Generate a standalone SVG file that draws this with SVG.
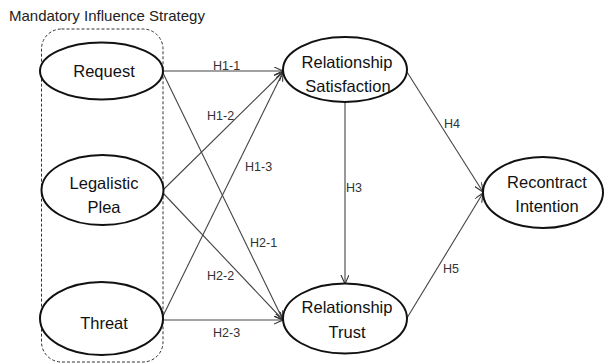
<svg xmlns="http://www.w3.org/2000/svg" width="604" height="364" viewBox="0 0 604 364">
  <style>
    .node ellipse { fill: #ffffff; stroke: #111111; stroke-width: 2; }
    .node text { font-family: "Liberation Sans", Arial, sans-serif; font-size: 16.5px; fill: #111111; text-anchor: middle; }
    .edge { stroke: #444444; stroke-width: 1.1; fill: none; marker-end: url(#arrow); }
    .elabel { font-family: "Liberation Sans", Arial, sans-serif; font-size: 12.5px; fill: #333333; }
    .title { font-family: "Liberation Sans", Arial, sans-serif; font-size: 15px; fill: #222222; }
    .group-box { fill: none; stroke: #333333; stroke-width: 1; stroke-dasharray: 3 2; }
  </style>
  <defs>
    <marker id="arrow" markerWidth="10" markerHeight="10" refX="9" refY="4" orient="auto" markerUnits="userSpaceOnUse">
      <path d="M0,0 L9,4 L0,8" fill="none" stroke="#333333" stroke-width="1.1"/>
    </marker>
  </defs>

  <rect width="604" height="364" fill="#ffffff"/>

  <!-- strategy group -->
  <text class="title" x="9" y="21">Mandatory Influence Strategy</text>
  <rect class="group-box" x="41.5" y="29" width="121.5" height="333" rx="20" ry="20"/>

  <!-- connectors -->
  <g id="connectors">
    <line class="edge" x1="163" y1="71" x2="283" y2="71"/>
    <line class="edge" x1="163" y1="73" x2="283" y2="320"/>
    <line class="edge" x1="163" y1="190" x2="283" y2="72"/>
    <line class="edge" x1="163" y1="193" x2="283" y2="320"/>
    <line class="edge" x1="163" y1="316" x2="283" y2="72"/>
    <line class="edge" x1="163" y1="320" x2="283" y2="320"/>
    <line class="edge" x1="345" y1="102" x2="345" y2="284"/>
    <line class="edge" x1="407" y1="72" x2="483" y2="192"/>
    <line class="edge" x1="407" y1="318" x2="483" y2="193"/>

    <text class="elabel" x="213" y="70">H1-1</text>
    <text class="elabel" x="207" y="120">H1-2</text>
    <text class="elabel" x="245" y="171">H1-3</text>
    <text class="elabel" x="250" y="247">H2-1</text>
    <text class="elabel" x="207" y="280">H2-2</text>
    <text class="elabel" x="213" y="337">H2-3</text>
    <text class="elabel" x="346" y="192">H3</text>
    <text class="elabel" x="444" y="128">H4</text>
    <text class="elabel" x="443" y="273">H5</text>
  </g>

  <!-- nodes -->
  <g id="request" class="node">
    <ellipse cx="101.5" cy="71" rx="61.5" ry="28.5"/>
    <text x="104" y="77">Request</text>
  </g>
  <g id="legalistic-plea" class="node">
    <ellipse cx="102.5" cy="190" rx="61" ry="35"/>
    <text x="104" y="189">Legalistic</text>
    <text x="104" y="213">Plea</text>
  </g>
  <g id="threat" class="node">
    <ellipse cx="101.5" cy="318.5" rx="61.5" ry="36.5"/>
    <text x="104" y="329">Threat</text>
  </g>
  <g id="relationship-satisfaction" class="node">
    <ellipse cx="345" cy="69.5" rx="62" ry="32.5"/>
    <text x="347" y="68">Relationship</text>
    <text x="348" y="92">Satisfaction</text>
  </g>
  <g id="relationship-trust" class="node">
    <ellipse cx="345" cy="318.5" rx="62" ry="35"/>
    <text x="347" y="313">Relationship</text>
    <text x="347" y="338">Trust</text>
  </g>
  <g id="recontract-intention" class="node">
    <ellipse cx="543" cy="192.5" rx="60" ry="35.5"/>
    <text x="547" y="188">Recontract</text>
    <text x="547" y="212">Intention</text>
  </g>
</svg>
